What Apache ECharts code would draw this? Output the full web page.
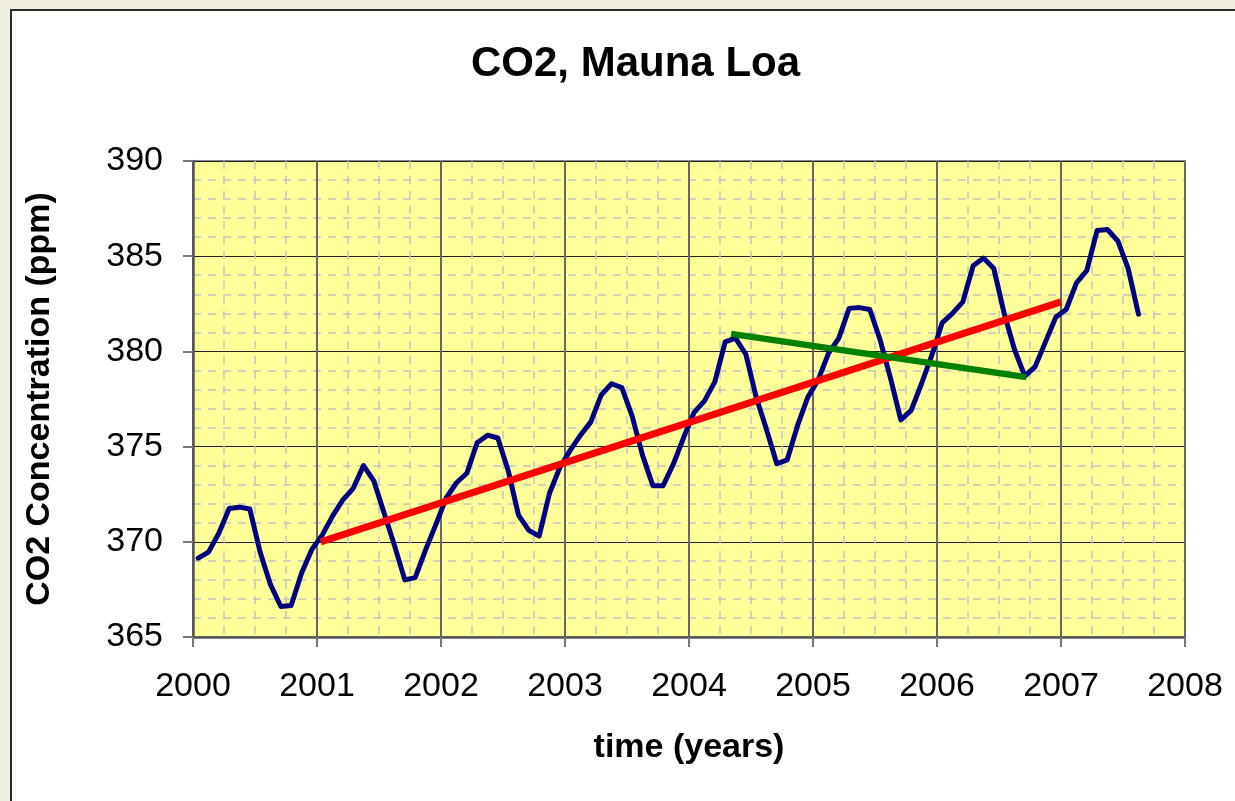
<!DOCTYPE html>
<html>
<head>
<meta charset="utf-8">
<script src="https://cdn.jsdelivr.net/npm/echarts@6/dist/echarts.min.js"></script>
<style>
  html, body { margin: 0; padding: 0; background: #F0EEDC; width: 1235px; height: 801px; overflow: hidden; }
  #frame { position: absolute; left: 10px; top: 9px; width: 1300px; height: 900px; background: #ffffff; border: 2px solid #2a2a2a; }
  #chart { position: absolute; left: 0; top: 0; width: 1235px; height: 801px; }
</style>
</head>
<body>
<div id="frame"></div>
<div id="chart"></div>
<script>
// Monthly mean CO2 at Mauna Loa (ppm), Jan 2000 .. Aug 2007
const startYear = 2000;
const co2_2000 = [369.14, 369.46, 370.45, 371.75, 371.82, 371.72, 369.45, 367.75, 366.6, 366.65, 368.35, 369.6];
const co2_2001 = [370.35, 371.35, 372.2, 372.8, 374.0, 373.2, 371.5, 369.8, 368.0, 368.12, 369.56, 370.9];
const co2_2002 = [372.3, 373.1, 373.6, 375.2, 375.6, 375.45, 373.75, 371.4, 370.6, 370.3, 372.55, 373.9];
const co2_2003 = [374.8, 375.6, 376.3, 377.7, 378.3, 378.1, 376.6, 374.55, 372.95, 372.95, 374.1, 375.5];
const co2_2004 = [376.8, 377.4, 378.4, 380.5, 380.7, 379.85, 377.6, 375.9, 374.1, 374.3, 376.1, 377.6];
const co2_2005 = [378.5, 379.9, 380.7, 382.26, 382.3, 382.2, 380.6, 378.6, 376.4, 376.9, 378.3, 379.8];
const co2_2006 = [381.5, 382.0, 382.6, 384.5, 384.9, 384.35, 382.0, 380.1, 378.7, 379.2, 380.5, 381.8];
const co2_2007 = [382.2, 383.6, 384.25, 386.35, 386.4, 385.8, 384.35, 381.95];

// Trend lines (endpoints: [year, ppm])
const redTrend = [[2001.03, 370.0], [2007.0, 382.6]];
const greenTrend = [[2004.34, 380.92], [2006.72, 378.65]];

// Axis ticks
const xTicks = { min: 2000, max: 2008, interval: 1 };
const yTicks = { min: 365, max: 390, interval: 5 };

const monthly = [].concat(co2_2000, co2_2001, co2_2002, co2_2003, co2_2004, co2_2005, co2_2006, co2_2007);
const blueData = monthly.map((v, i) => [startYear + (i + 0.5) / 12, v]);

const chart = echarts.init(document.getElementById('chart'), null, { renderer: 'canvas' });
const FONT = '"Liberation Sans", Arial, Helvetica, sans-serif';
chart.setOption({
  backgroundColor: 'transparent',
  animation: false,
  title: {
    text: 'CO2, Mauna Loa',
    left: 466,
    top: 38,
    textStyle: { fontFamily: FONT, fontSize: 42, fontWeight: 'bold', color: '#000' }
  },
  grid: {
    left: 193, top: 161, right: 50, bottom: 164,
    show: true, backgroundColor: '#FFFF99', borderColor: '#888', borderWidth: 2
  },
  xAxis: {
    type: 'value',
    min: xTicks.min, max: xTicks.max, interval: xTicks.interval,
    name: 'time (years)',
    nameLocation: 'middle',
    nameGap: 94,
    nameTextStyle: { fontFamily: FONT, fontSize: 34, fontWeight: 'bold', color: '#000' },
    axisLine: { show: true, onZero: false, lineStyle: { color: '#555', width: 2.5 } },
    axisTick: { show: true, length: 10, lineStyle: { color: '#777', width: 2 } },
    axisLabel: { fontFamily: FONT, fontSize: 34, color: '#000', margin: 33, formatter: v => String(v) },
    splitLine: { show: true, lineStyle: { color: '#666', width: 2 } },
    minorTick: { show: false, splitNumber: 4 },
    minorSplitLine: { show: true, lineStyle: { color: '#c4c4c4', width: 1.5, type: [8, 7] } }
  },
  yAxis: {
    type: 'value',
    min: yTicks.min, max: yTicks.max, interval: yTicks.interval,
    name: 'CO2 Concentration (ppm)',
    nameLocation: 'middle',
    nameGap: 136,
    nameTextStyle: { fontFamily: FONT, fontSize: 34, fontWeight: 'bold', color: '#000' },
    axisLine: { show: true, lineStyle: { color: '#555', width: 2.5 } },
    axisTick: { show: true, length: 10, lineStyle: { color: '#777', width: 2 } },
    axisLabel: { fontFamily: FONT, fontSize: 34, color: '#000', margin: 30 },
    splitLine: { show: true, lineStyle: { color: '#222', width: 1.2 } },
    minorTick: { show: false, splitNumber: 5 },
    minorSplitLine: { show: true, lineStyle: { color: '#c4c4c4', width: 1.5, type: [8, 7] } }
  },
  series: [
    {
      name: 'CO2', type: 'line', data: blueData, showSymbol: false, smooth: false,
      lineStyle: { color: '#000080', width: 5, join: 'round', cap: 'round' }, z: 3
    },
    {
      name: 'trend', type: 'line', data: redTrend, showSymbol: false,
      lineStyle: { color: '#FF0000', width: 7 }, z: 4
    },
    {
      name: 'recent', type: 'line', data: greenTrend, showSymbol: false,
      lineStyle: { color: '#008000', width: 6.5 }, z: 5
    }
  ]
});
</script>
</body>
</html>
